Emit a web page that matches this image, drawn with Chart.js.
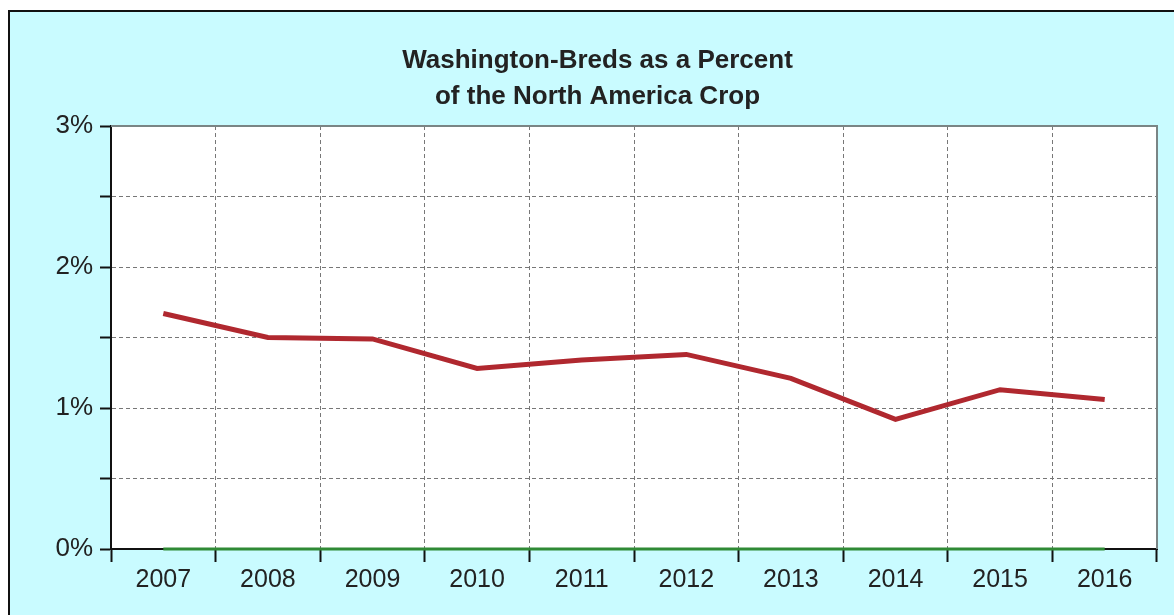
<!DOCTYPE html>
<html>
<head>
<meta charset="utf-8">
<script src="https://cdn.jsdelivr.net/npm/chart.js@4"></script>
<style>
    html, body { margin: 0; padding: 0; background: #fff; overflow: hidden; }
    #frame {
        position: absolute; left: 8px; top: 10px;
        width: 1200px; height: 700px;
        border: 2px solid #111; background: #c9fbff;
    }
    #wrap { position: absolute; left: 0; top: 0; width: 1174px; height: 615px; }
</style>
</head>
<body>
<div id="frame"></div>
<div id="wrap"><canvas id="pctChart" width="1174" height="615"></canvas></div>
<script>
// chart data
var years = ["2007", "2008", "2009", "2010", "2011", "2012", "2013", "2014", "2015", "2016"];
var waPercent = [1.67, 1.50, 1.49, 1.28, 1.34, 1.38, 1.21, 0.92, 1.13, 1.06];
var baseLine = [0, 0, 0, 0, 0, 0, 0, 0, 0, 0];
var titleLines = ["Washington-Breds as a Percent", "of the North America Crop"];
var yMax = 3;

var fontFam = "Liberation Sans, Arial, sans-serif";

// white plot area + gray border on top/right
var plotBg = {
    id: "plotBg",
    beforeDraw: function (chart) {
        var a = chart.chartArea, c = chart.ctx;
        c.save();
        c.fillStyle = "#ffffff";
        c.fillRect(a.left, a.top, a.right - a.left, a.bottom - a.top);
        c.restore();
    },
    afterDraw: function (chart) {
        var a = chart.chartArea, c = chart.ctx;
        c.save();
        c.strokeStyle = "#7a8585";
        c.lineWidth = 2;
        c.beginPath();
        c.moveTo(a.left, a.top);
        c.lineTo(a.right, a.top);
        c.lineTo(a.right, a.bottom);
        c.stroke();
        c.restore();
    }
};

document.addEventListener("DOMContentLoaded", function () {
    var ctx = document.getElementById("pctChart").getContext("2d");
    new Chart(ctx, {
        type: "line",
        data: {
            labels: years,
            datasets: [{
                label: "Washington-Breds",
                data: waPercent,
                borderColor: "#b0282f",
                borderWidth: 5,
                pointRadius: 0,
                tension: 0,
                fill: false
            }, {
                label: "base",
                data: baseLine,
                borderColor: "#2f8a35",
                borderWidth: 3,
                pointRadius: 0,
                clip: 6,
                fill: false
            }]
        },
        options: {
            responsive: false,
            animation: false,
            // left padding keeps the title centred like the original
            layout: { padding: { left: 38, right: 17, top: 0, bottom: 0 } },
            plugins: {
                legend: { display: false },
                tooltip: { enabled: false },
                title: {
                    display: true,
                    text: titleLines,
                    color: "#222",
                    font: { family: fontFam, size: 26, weight: "bold", lineHeight: 1.385 },
                    padding: { top: 43, bottom: 11 }
                }
            },
            scales: {
                x: {
                    offset: true,
                    grid: {
                        offset: true,
                        color: "#777",
                        lineWidth: 1,
                        tickLength: 13,
                        tickColor: "#111",
                        tickWidth: 2,
                        tickBorderDash: []
                    },
                    border: { display: true, color: "#111", width: 2, dash: [4, 3] },
                    ticks: {
                        color: "#222",
                        padding: 3,
                        maxRotation: 0,
                        font: { family: fontFam, size: 25 }
                    },
                    afterFit: function (scale) { scale.height = 66; }
                },
                y: {
                    min: 0,
                    max: yMax,
                    grid: {
                        color: "#777",
                        lineWidth: 1,
                        tickLength: 11,
                        tickColor: "#111",
                        tickWidth: 2,
                        tickBorderDash: []
                    },
                    border: { display: true, color: "#111", width: 2, dash: [4, 3] },
                    ticks: {
                        stepSize: 0.5,
                        color: "#222",
                        padding: 7,
                        font: { family: fontFam, size: 26 },
                        callback: function (value) {
                            return value % 1 === 0 ? value + "%" : "";
                        }
                    },
                    afterFit: function (scale) { scale.width = 73; }
                }
            }
        },
        plugins: [plotBg]
    });
});
</script>
</body>
</html>
